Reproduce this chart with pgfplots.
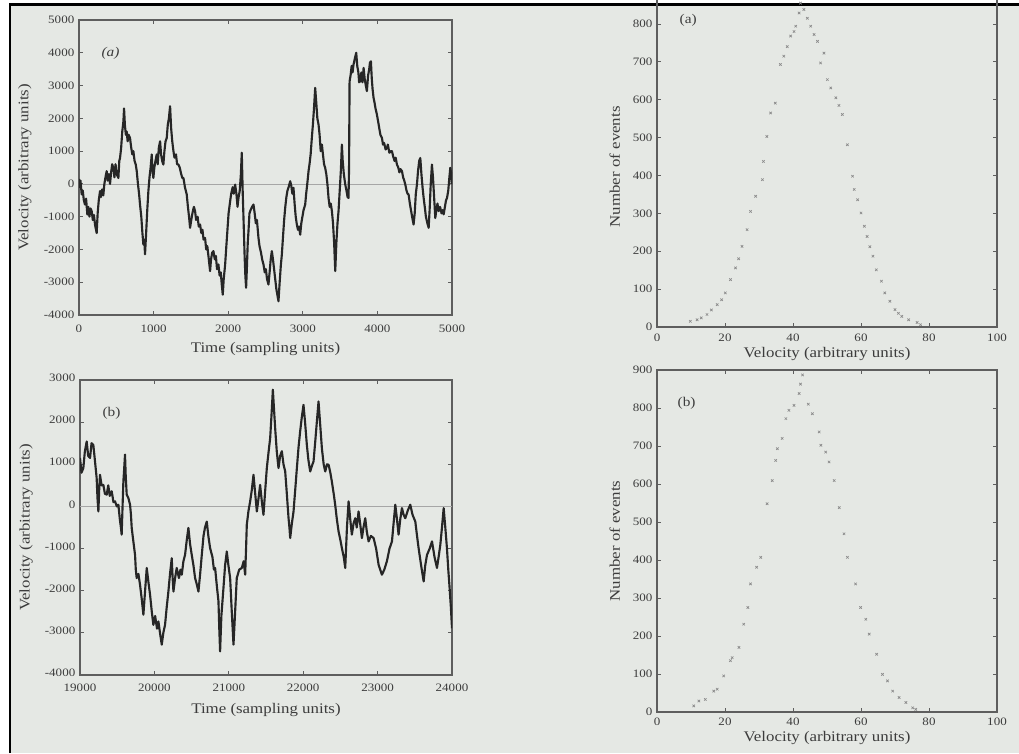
\documentclass[border=0pt]{standalone}
\usepackage{fontspec}
\setmainfont[FakeStretch=1.15]{Liberation Serif}
\usepackage{pgfplots}
\pgfplotsset{compat=1.18}
\definecolor{bgcol}{HTML}{E5E8E4}
\definecolor{axcol}{HTML}{5E5E5E}
\definecolor{txtcol}{HTML}{3C3C3C}
\definecolor{linecol}{HTML}{262626}
\definecolor{mkcol}{HTML}{8A8A8A}
\pgfplotsset{
  common/.style={
    scale only axis,
    axis line style={draw=axcol, line width=0.9pt},
    tick style={draw=axcol, line width=0.6pt},
    major tick length=3pt,
    tick align=inside,
    tick label style={font=\fontsize{8.5}{10}\selectfont, text=txtcol},
    label style={font=\fontsize{11}{13}\selectfont, text=txtcol},
    /pgf/number format/assume math mode=true,
    /pgf/number format/1000 sep={},
    scaled ticks=false,
    clip=true,
  }
}
\begin{document}
\begin{tikzpicture}[x=1pt,y=1pt]
% background of the scan
\fill[white] (0,0) rectangle (764.25,564.75);
\fill[bgcol] (8.25,0) rectangle (764.25,560.25);
\draw[black, line width=2.2pt] (7.5,0) -- (7.5,561.5) -- (764.25,561.5);

% ---------------- top left ----------------
\begin{axis}[common,
  at={(59.25pt,328.5pt)}, anchor=south west,
  width=279.75pt, height=221.25pt,
  xmin=0, xmax=5000, ymin=-4000, ymax=5000,
  xtick={0,1000,...,5000}, ytick={-4000,-3000,...,5000},
  xticklabel style={yshift=-4pt},
  xlabel={Time (sampling units)}, ylabel={Velocity (arbitrary units)},
  xlabel style={at={(axis description cs:0.5,-0.115)}, anchor=center},
  ylabel style={at={(axis description cs:-0.145,0.5)}, anchor=center},
]
\addplot[color=gray!70, line width=0.5pt] coordinates {(0,0) (5000,0)};
\addplot[color=linecol, line width=1.6pt, line join=round] table {
0 150
10 -100
20 100
36 -320
50 -200
65 -500
80 -630
95 -450
112 -935
125 -700
140 -1000
155 -750
170 -830
185 -1100
200 -950
215 -1250
237 -1500
250 -900
265 -500
282 -220
295 -400
310 -170
326 -350
340 0
355 200
371 390
385 100
400 300
416 0
430 350
445 600
461 490
475 200
490 600
505 300
528 180
540 700
550 790
565 1100
580 1600
595 1900
604 2300
615 1800
628 1500
639 1600
652 1300
665 1500
684 1400
700 1100
715 900
729 1000
745 700
760 600
774 390
790 0
805 -300
818 -630
835 -1000
850 -1500
863 -1850
875 -1700
885 -2150
900 -1500
915 -800
930 -220
945 200
960 500
975 900
985 400
997 180
1010 500
1025 700
1042 900
1055 600
1070 1100
1087 1300
1100 900
1115 700
1131 590
1145 1000
1160 1300
1176 1400
1190 1800
1205 2000
1221 2370
1235 1700
1250 1300
1266 1000
1280 800
1300 900
1315 600
1333 590
1350 500
1370 300
1385 180
1400 180
1420 -100
1444 -320
1460 -700
1475 -1000
1489 -1340
1505 -1100
1520 -900
1540 -700
1556 -830
1570 -1100
1590 -1000
1605 -1300
1623 -1240
1640 -1500
1655 -1400
1670 -1700
1690 -1650
1705 -2000
1720 -1900
1740 -2300
1757 -2660
1770 -2300
1785 -2100
1802 -2050
1820 -2300
1835 -2200
1850 -2600
1869 -2460
1885 -2800
1900 -2700
1915 -3100
1927 -3380
1940 -2900
1959 -2460
1975 -1900
1990 -1400
2005 -900
2026 -530
2040 -300
2060 -100
2075 -300
2093 -20
2110 -300
2125 -700
2138 -430
2155 -200
2170 300
2182 950
2195 -300
2205 -1040
2220 -2200
2230 -2800
2240 -3170
2250 -2600
2262 -1800
2272 -1440
2285 -900
2300 -800
2320 -700
2339 -630
2355 -900
2370 -1200
2385 -1100
2406 -1650
2420 -1900
2440 -2100
2455 -2300
2473 -2460
2490 -2700
2505 -2600
2520 -2900
2540 -3070
2555 -2700
2570 -2300
2585 -2050
2600 -2300
2615 -2600
2630 -2900
2645 -3200
2660 -3400
2674 -3580
2690 -3000
2705 -2500
2719 -2160
2735 -1600
2750 -1100
2764 -730
2780 -400
2795 -200
2810 -100
2831 80
2845 -50
2860 -300
2875 -120
2890 -600
2905 -1000
2920 -1240
2935 -1400
2950 -1300
2965 -1550
2980 -1200
2995 -1000
3010 -800
3032 -630
3045 -300
3060 0
3077 390
3090 600
3105 900
3121 1400
3135 1800
3150 2300
3166 2930
3180 2500
3195 2000
3211 1810
3225 1500
3240 1000
3256 1200
3270 900
3285 600
3300 490
3315 300
3330 0
3345 -430
3360 -700
3375 -600
3390 -830
3405 -1200
3420 -1800
3435 -2660
3450 -1800
3465 -1200
3479 -830
3495 -200
3510 400
3524 1200
3535 700
3550 300
3569 -20
3585 -200
3600 -400
3613 -430
3620 500
3627 3130
3640 3300
3655 3600
3667 3400
3680 3640
3695 3800
3716 4000
3730 3600
3745 3400
3755 3100
3770 3130
3785 3400
3800 3100
3815 3540
3830 3200
3845 3000
3859 2830
3875 3300
3890 3500
3900 3700
3913 3740
3925 3200
3935 2900
3949 2620
3960 2500
3975 2300
3993 2120
4010 1900
4025 1700
4040 1500
4061 1400
4075 1200
4090 1250
4110 1050
4128 1100
4140 1200
4160 950
4180 1000
4195 1000
4210 850
4230 700
4245 800
4262 590
4280 500
4295 350
4310 450
4329 390
4345 200
4360 100
4374 -20
4390 -200
4405 -300
4418 -320
4435 -600
4450 -800
4465 -1000
4485 -1240
4500 -900
4515 -300
4530 -20
4545 400
4560 700
4575 790
4590 300
4605 -100
4620 -430
4635 -700
4650 -1000
4670 -1200
4687 -1340
4700 -800
4715 0
4731 590
4745 200
4760 -400
4776 -1040
4790 -800
4805 -600
4821 -830
4840 -700
4860 -900
4875 -800
4888 -930
4905 -700
4920 -500
4933 -430
4950 -200
4965 200
4977 490
4990 300
5000 -20
};
\node[anchor=west, text=txtcol, font=\fontsize{10}{12}\selectfont\itshape] at (axis cs:240,3990) {(a)};
\end{axis}

% ---------------- bottom left ----------------
\begin{axis}[common,
  at={(60pt,58.5pt)}, anchor=south west,
  width=279pt, height=221.25pt,
  xmin=19000, xmax=24000, ymin=-4000, ymax=3000,
  xtick={19000,20000,...,24000}, ytick={-4000,-3000,...,3000},
  xticklabel style={yshift=-3pt},
  yticklabel style={yshift=1.5pt},
  xlabel={Time (sampling units)}, ylabel={Velocity (arbitrary units)},
  xlabel style={at={(axis description cs:0.5,-0.12)}, anchor=center},
  ylabel style={at={(axis description cs:-0.145,0.5)}, anchor=center},
]
\addplot[color=gray!70, line width=0.5pt] coordinates {(19000,0) (24000,0)};
\addplot[color=linecol, line width=1.6pt, line join=round] table {
19000 1150
19020 800
19045 910
19065 1300
19090 1540
19110 1200
19135 1150
19155 1500
19179 1460
19200 1100
19224 670
19235 200
19247 -120
19258 400
19269 750
19290 500
19314 510
19335 300
19359 280
19380 500
19400 250
19426 360
19450 100
19471 120
19495 0
19516 40
19535 -300
19550 -500
19560 -670
19572 0
19583 590
19594 900
19605 1230
19615 700
19628 280
19650 200
19673 40
19685 -200
19695 -510
19715 -800
19740 -1150
19750 -1500
19762 -1700
19785 -1600
19807 -1860
19830 -2200
19852 -2570
19875 -2000
19897 -1460
19920 -1800
19942 -2100
19965 -2500
19986 -2810
20010 -2600
20035 -2900
20054 -2730
20075 -3000
20099 -3280
20120 -3000
20143 -2810
20165 -2400
20188 -2020
20210 -1600
20233 -1230
20245 -1700
20256 -2020
20278 -1700
20300 -1460
20330 -1700
20350 -1500
20368 -1620
20390 -1300
20412 -1150
20435 -800
20457 -510
20480 -900
20502 -1150
20525 -1400
20547 -1700
20570 -1850
20592 -2020
20615 -1600
20637 -1150
20660 -700
20680 -500
20704 -360
20725 -700
20749 -990
20780 -1200
20800 -1500
20816 -1460
20840 -1900
20861 -2250
20872 -2900
20883 -3440
20900 -2600
20928 -1940
20950 -1400
20973 -1070
20995 -1400
21018 -1700
21040 -2500
21063 -3280
21085 -2500
21107 -1700
21140 -1500
21175 -1460
21200 -1300
21220 -1620
21232 -1000
21242 -430
21265 -100
21287 120
21310 400
21332 750
21355 300
21377 -120
21400 200
21421 510
21445 100
21466 -200
21490 400
21511 910
21535 1300
21556 1620
21575 2200
21592 2770
21608 2300
21623 1860
21645 1300
21668 910
21690 1200
21713 1310
21735 1000
21758 830
21780 300
21803 -280
21815 -500
21825 -750
21848 -400
21870 -120
21893 400
21915 910
21937 1400
21959 1780
21980 2100
22004 2410
22025 2000
22049 1460
22070 1100
22094 830
22115 950
22139 1070
22160 1500
22184 2020
22206 2490
22230 1900
22251 1380
22275 1000
22296 830
22320 1000
22341 990
22365 800
22385 590
22410 300
22430 40
22452 -300
22475 -590
22500 -800
22520 -990
22545 -1200
22565 -1460
22588 -500
22610 120
22632 -300
22654 -670
22677 -400
22699 -280
22720 -500
22744 -120
22765 -400
22789 -750
22810 -500
22834 -280
22855 -600
22879 -830
22910 -700
22946 -750
22980 -1000
23013 -1380
23035 -1500
23058 -1620
23090 -1500
23125 -1300
23160 -1000
23193 -830
23215 -400
23238 40
23260 -300
23282 -670
23305 -300
23327 -40
23350 -200
23372 -280
23405 -100
23439 40
23470 -200
23507 -360
23530 -700
23551 -990
23585 -1400
23619 -1780
23640 -1400
23664 -1150
23700 -1000
23731 -830
23765 -1200
23798 -1460
23820 -1200
23843 -910
23865 -500
23888 -40
23910 -500
23932 -990
23950 -1500
23968 -1940
23985 -2400
24000 -2890
};
\node[anchor=west, text=txtcol, font=\fontsize{10}{12}\selectfont] at (axis cs:19240,2210) {(b)};
\end{axis}

% ---------------- top right ----------------
\begin{axis}[common,
  at={(492.75pt,319.5pt)}, anchor=south west,
  width=255pt, height=255.7pt,
  xmin=0, xmax=100, ymin=0, ymax=900,
  xtick={0,20,...,100}, ytick={0,100,...,800},
  xticklabel style={yshift=-2pt},
  xlabel={Velocity (arbitrary units)}, ylabel={Number of events},
  xlabel style={at={(axis description cs:0.5,-0.08)}, anchor=center},
  ylabel style={at={(axis description cs:-0.124,0.47)}, anchor=center},
]
\addplot[only marks, mark=x, mark size=1.3pt, color=mkcol, mark options={line width=0.5pt}] table {
9.8 15
11.8 19
13 24
14.7 33
16 45
17.7 59
19 72
20.1 90
21.6 125
23.1 156
24 180
25 213
26.5 257
27.5 305
29 345
31 389
31.3 437
32.3 503
33.4 565
34.8 591
36.3 693
37.3 715
38.3 740
39.3 768
40.3 780
40.8 794
41.8 829
42.2 855
42.6 870
43.2 838
44.2 815
45.2 794
46.2 772
47.2 754
48.1 697
49.1 723
50.1 653
51.1 631
52.6 605
53.5 585
54.5 561
56 481
57.5 398
58 363
59 336
60 301
61 266
61.8 239
62.6 212
63.5 187
64.5 151
66 121
67 90
68.5 68
70 46
71 36
72 28
74 19
76.5 12
77.5 6
};
\node[anchor=west, text=txtcol, font=\fontsize{10}{12}\selectfont] at (axis cs:5.3,810) {(a)};
\end{axis}

% ---------------- bottom right ----------------
\begin{axis}[common,
  at={(492.75pt,30.75pt)}, anchor=south west,
  width=255pt, height=256.5pt,
  xmin=0, xmax=100, ymin=0, ymax=900,
  xtick={0,20,...,100}, ytick={0,100,...,900},
  xticklabel style={yshift=-1pt},
  xlabel={Velocity (arbitrary units)}, ylabel={Number of events},
  xlabel style={at={(axis description cs:0.5,-0.075)}, anchor=center},
  ylabel style={at={(axis description cs:-0.124,0.5)}, anchor=center},
]
\addplot[only marks, mark=x, mark size=1.3pt, color=mkcol, mark options={line width=0.5pt}] table {
10.8 16
12.3 29
14.2 33
16.7 55
17.7 60
19.6 95
21.6 135
22.1 143
24.1 170
25.5 231
26.7 275
27.5 337
29.3 381
30.5 407
32.4 548
33.9 609
34.9 662
35.4 693
36.8 720
37.9 772
38.8 794
40.3 807
41.8 838
42.2 863
42.8 887
44.5 810
45.7 785
47.7 737
48.2 702
49.6 684
50.6 658
52.1 609
53.6 538
55 469
56 407
58.4 337
59.9 275
61.4 244
62.4 205
64.6 152
66.3 99
67.8 82
69.3 55
71.2 38
73.2 25
75.2 11
76.1 7
};
\node[anchor=west, text=txtcol, font=\fontsize{10}{12}\selectfont] at (axis cs:4.7,813) {(b)};
\end{axis}

\pgfresetboundingbox
\useasboundingbox (0,0) rectangle (764.25,564.75);
\end{tikzpicture}
\end{document}
